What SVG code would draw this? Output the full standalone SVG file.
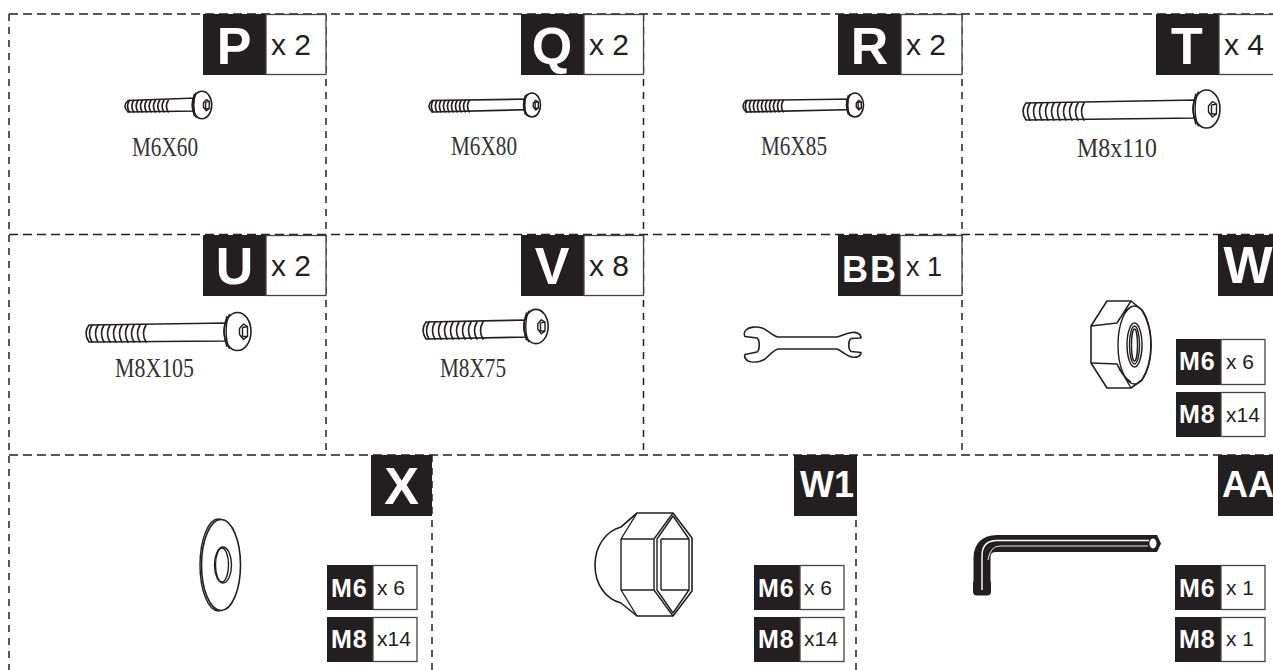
<svg xmlns="http://www.w3.org/2000/svg" xmlns:xlink="http://www.w3.org/1999/xlink" width="1273" height="670" viewBox="0 0 1273 670">
<style>
.k{fill:#231f20}
.w{fill:#fff;stroke:#444;stroke-width:1.3}
.d{fill:none;stroke:#231f20;stroke-width:1.5;stroke-dasharray:9 5}
.v{fill:none;stroke:#231f20;stroke-width:1.5;stroke-dasharray:7 6}
.o{fill:#fff;stroke:#231f20;stroke-width:1.6;stroke-linejoin:round;stroke-linecap:round;vector-effect:non-scaling-stroke}
.n{fill:none;stroke:#231f20;stroke-width:1.4;stroke-linejoin:round;vector-effect:non-scaling-stroke}
.t{fill:none;stroke:#231f20;stroke-width:1.7;stroke-linecap:round;vector-effect:non-scaling-stroke}
.big{font:bold 52px "Liberation Sans",Arial,sans-serif;fill:#fff;text-anchor:middle}
.mid{font:bold 36px "Liberation Sans",Arial,sans-serif;fill:#fff}
.sz{font:bold 25px "Liberation Sans",Arial,sans-serif;fill:#fff;letter-spacing:.8px}
.q{font:30px "Liberation Sans",Arial,sans-serif;fill:#231f20}
.qs{font:21px "Liberation Sans",Arial,sans-serif;fill:#231f20}
.l{font:27px "Liberation Serif","Times New Roman",serif;fill:#333}
</style>
<defs>
<g id="head">
<ellipse class="o" rx="13.500" ry="19"/>
<path class="n" d="M-8,-17.500C-12.500,-8 -12.500,8 -8,17.500M-10.500,-15.500C-14,-6 -14,6 -10.500,15.500"/>
<path class="n" d="M2,-3L6,-7.500 10,-5V5L6,8 2,3ZM5,-4V5M5,-4L10,-5M5,5L10,5"/>
</g>
<path id="th" class="t" d="M6,0q-5,8.500 0,17m6,-17q-5,8.500 0,17m6,-17q-5,8.500 0,17m6,-17q-5,8.500 0,17m6,-17q-5,8.500 0,17m6,-17q-5,8.500 0,17m6,-17q-5,8.500 0,17m6,-17q-5,8.500 0,17m6,-17q-5,8.500 0,17m6,-17q-5,8.500 0,17"/>
</defs>
<rect width="1273" height="670" fill="#fff"/>
<g id="connectors">
<path class="d" d="M9,14H1273M9,234.500H1273M9,455H1273"/>
<path class="v" d="M9,14V670M326,14V455M643.500,14V455M962,14V455M432,455V670M856,455V670"/>
</g>

<g id="part-P">
<rect class="k" x="203" y="14" width="63" height="61"/><rect class="w" x="266" y="14.500" width="60" height="60"/>
<text class="big" x="234" y="64">P</text><text class="q" x="271" y="55" xml:space="preserve">x 2</text>
<path class="o" d="M196,98L128,100.500Q122,106 128,112L196,111Z"/>
<use href="#th" transform="translate(125,100.500) scale(.72,.67)"/><use href="#head" transform="translate(202,105) scale(.72)"/>
<text class="l" x="132" y="156" textLength="66" lengthAdjust="spacingAndGlyphs">M6X60</text>
</g>
<g id="part-Q">
<rect class="k" x="521" y="14" width="63" height="61"/><rect class="w" x="584" y="14.500" width="59.500" height="60"/>
<text class="big" x="552" y="64">Q</text><text class="q" x="589" y="55" xml:space="preserve">x 2</text>
<path class="o" d="M534,99L432,100.500Q426,106 432,112L534,109.500Z"/>
<use href="#th" transform="translate(429,100.500) scale(.67,.67)"/><use href="#head" transform="translate(532,105) scale(.63)"/>
<text class="l" x="451" y="155" textLength="66" lengthAdjust="spacingAndGlyphs">M6X80</text>
</g>
<g id="part-R">
<rect class="k" x="838" y="14" width="63" height="61"/><rect class="w" x="901" y="14.500" width="61" height="60"/>
<text class="big" x="869.500" y="64">R</text><text class="q" x="906" y="55" xml:space="preserve">x 2</text>
<path class="o" d="M856,99L746,100.500Q740,106 746,112L856,109.500Z"/>
<use href="#th" transform="translate(743,100.500) scale(.67,.67)"/><use href="#head" transform="translate(855,105) scale(.63)"/>
<text class="l" x="761" y="155" textLength="66" lengthAdjust="spacingAndGlyphs">M6X85</text>
</g>
<g id="part-T">
<rect class="k" x="1156" y="14" width="63" height="61"/><rect class="w" x="1219" y="14.500" width="60" height="60"/>
<text class="big" x="1187" y="64">T</text><text class="q" x="1224" y="55" xml:space="preserve">x 4</text>
<path class="o" d="M1197,100L1026,103Q1020,111 1026,120L1197,118Z"/>
<use href="#th" transform="translate(1024,103)"/><use href="#head" transform="translate(1206.500,109)"/>
<text class="l" x="1077" y="157" textLength="80" lengthAdjust="spacingAndGlyphs">M8x110</text>
</g>

<g id="part-U">
<rect class="k" x="203" y="235" width="63" height="61"/><rect class="w" x="266" y="235.500" width="60" height="60"/>
<text class="big" x="234.500" y="284">U</text><text class="q" x="271" y="276" xml:space="preserve">x 2</text>
<path class="o" d="M228,323L89,325Q83,333 89,342L228,341Z"/>
<use href="#th" transform="translate(86,325)"/><use href="#head" transform="translate(237.500,331.500)"/>
<text class="l" x="115" y="377" textLength="79" lengthAdjust="spacingAndGlyphs">M8X105</text>
</g>
<g id="part-V">
<rect class="k" x="521" y="235" width="63" height="61"/><rect class="w" x="584" y="235.500" width="59.500" height="60"/>
<text class="big" x="552" y="284">V</text><text class="q" x="589" y="276" xml:space="preserve">x 8</text>
<path class="o" d="M530,320L426,322Q420,330 426,339L530,337Z"/>
<use href="#th" transform="translate(423,322)"/><use href="#head" transform="translate(536,326.500) scale(.9)"/>
<text class="l" x="440" y="377" textLength="66" lengthAdjust="spacingAndGlyphs">M8X75</text>
</g>
<g id="part-BB">
<rect class="k" x="838" y="235" width="62" height="61"/><rect class="w" x="900" y="235.500" width="62" height="60"/>
<text class="mid" x="842" y="282" style="letter-spacing:2px">BB</text><text class="q" x="906" y="276" style="font-size:27px" xml:space="preserve">x 1</text>
<path class="o" d="M778,337C772,336 768,330 762,328C756,326 749,327 746,330C744,332 744,335 745,336.500L757,338C760,340 760,350 757,352L745,354.500C744,357 745,359 748,361C753,363 760,362 765,359C769,356 772,351 778,349H837C842,351 846,356 852,357C857,358 861,356 861,352.500L851,351.500C848,349 848,341 851,338.500L861,338C861,334 857,332 852,332.500C846,333 842,336 837,337Z"/>
</g>
<g id="part-W">
<rect class="k" x="1218" y="235" width="60" height="61"/>
<text class="big" x="1248" y="283">W</text>
<path class="o" d="M1107,301H1131L1142,310C1148,320 1151,332 1151,345C1151,358 1148,370 1142,380L1131,388H1107L1091,363V326Z"/>
<path class="n" d="M1091,326L1117,323 1131,301M1091,363L1117,364 1131,388M1117,323C1119,319 1123,312 1131,307M1117,364C1119,369 1123,377 1131,382"/>
<ellipse class="n" cx="1134.500" cy="345" rx="16.500" ry="39"/>
<ellipse class="n" cx="1134.500" cy="345" rx="7.500" ry="22"/>
<ellipse class="n" cx="1134.500" cy="345" rx="5" ry="19"/>
<ellipse class="n" cx="1134.500" cy="345" rx="3" ry="16"/>
<rect class="k" x="1176" y="339" width="45" height="46"/><rect class="w" x="1221" y="339.500" width="44" height="45"/>
<text class="sz" x="1179" y="370">M6</text><text class="qs" x="1226" y="369" xml:space="preserve">x 6</text>
<rect class="k" x="1176" y="392" width="45" height="45"/><rect class="w" x="1221" y="392.500" width="44" height="44"/>
<text class="sz" x="1179" y="423">M8</text><text class="qs" x="1226" y="422">x14</text>
</g>

<g id="part-X">
<rect class="k" x="371" y="455" width="61" height="61"/>
<text class="big" x="401.500" y="504">X</text>
<ellipse class="n" cx="218.500" cy="565" rx="18.500" ry="46"/>
<ellipse class="o" cx="221" cy="565" rx="19.500" ry="45.500"/>
<ellipse class="n" cx="223" cy="565" rx="8.500" ry="18"/>
<ellipse class="n" cx="222" cy="565" rx="6.500" ry="17"/>
<rect class="k" x="327" y="565" width="46" height="45"/><rect class="w" x="373" y="565.500" width="44" height="44"/>
<text class="sz" x="331" y="597">M6</text><text class="qs" x="377" y="595" xml:space="preserve">x 6</text>
<rect class="k" x="327" y="617" width="46" height="45"/><rect class="w" x="373" y="617.500" width="44" height="44"/>
<text class="sz" x="331" y="648">M8</text><text class="qs" x="377" y="646">x14</text>
</g>
<g id="part-W1">
<rect class="k" x="794" y="455" width="63" height="61"/>
<text class="mid" x="800" y="497">W1</text>
<path class="o" d="M637,513H673L692,538V591L673,616H637L621,603C606,599 595,585 595,565C595,546 606,531 621,527Z"/>
<path class="n" d="M621,527L637,513M621,539V590L637,616M621,539L637,513M621,539H654V590H621M654,539L673,513M654,590L673,616"/>
<path class="n" d="M657,539L673,516 689,539V590L673,613 657,590ZM661,539H689M661,590H689M661,539V590"/>
<rect class="k" x="754" y="565" width="46" height="45"/><rect class="w" x="800" y="565.500" width="44" height="44"/>
<text class="sz" x="758" y="597">M6</text><text class="qs" x="804" y="595" xml:space="preserve">x 6</text>
<rect class="k" x="754" y="617" width="46" height="45"/><rect class="w" x="800" y="617.500" width="44" height="44"/>
<text class="sz" x="758" y="648">M8</text><text class="qs" x="804" y="646">x14</text>
</g>
<g id="part-AA">
<rect class="k" x="1218" y="455" width="60" height="61"/>
<text class="mid" x="1222" y="497">AA</text>
<path d="M982,590V558Q982,543.500 997,543.500H1152" fill="none" stroke="#231f20" stroke-width="17"/>
<rect class="k" x="973" y="580" width="18" height="15.500" rx="4"/>
<path d="M1150,535H1157L1161,543.500 1157,552H1150Z" class="k"/>
<ellipse cx="1153" cy="543.500" rx="3.500" ry="5" fill="#fff"/>
<path d="M982,590V556Q982,540.500 997,540.500H1149" fill="none" stroke="#fff" stroke-width="1.400"/>
<path d="M988,560Q990,546 1000,546H1148" fill="none" stroke="#fff" stroke-width=".9"/>
<rect class="k" x="1175" y="565" width="46" height="45"/><rect class="w" x="1221" y="565.500" width="44" height="44"/>
<text class="sz" x="1179" y="597">M6</text><text class="qs" x="1226" y="595" xml:space="preserve">x 1</text>
<rect class="k" x="1175" y="617" width="46" height="45"/><rect class="w" x="1221" y="617.500" width="44" height="44"/>
<text class="sz" x="1179" y="648">M8</text><text class="qs" x="1226" y="646" xml:space="preserve">x 1</text>
</g>
</svg>
